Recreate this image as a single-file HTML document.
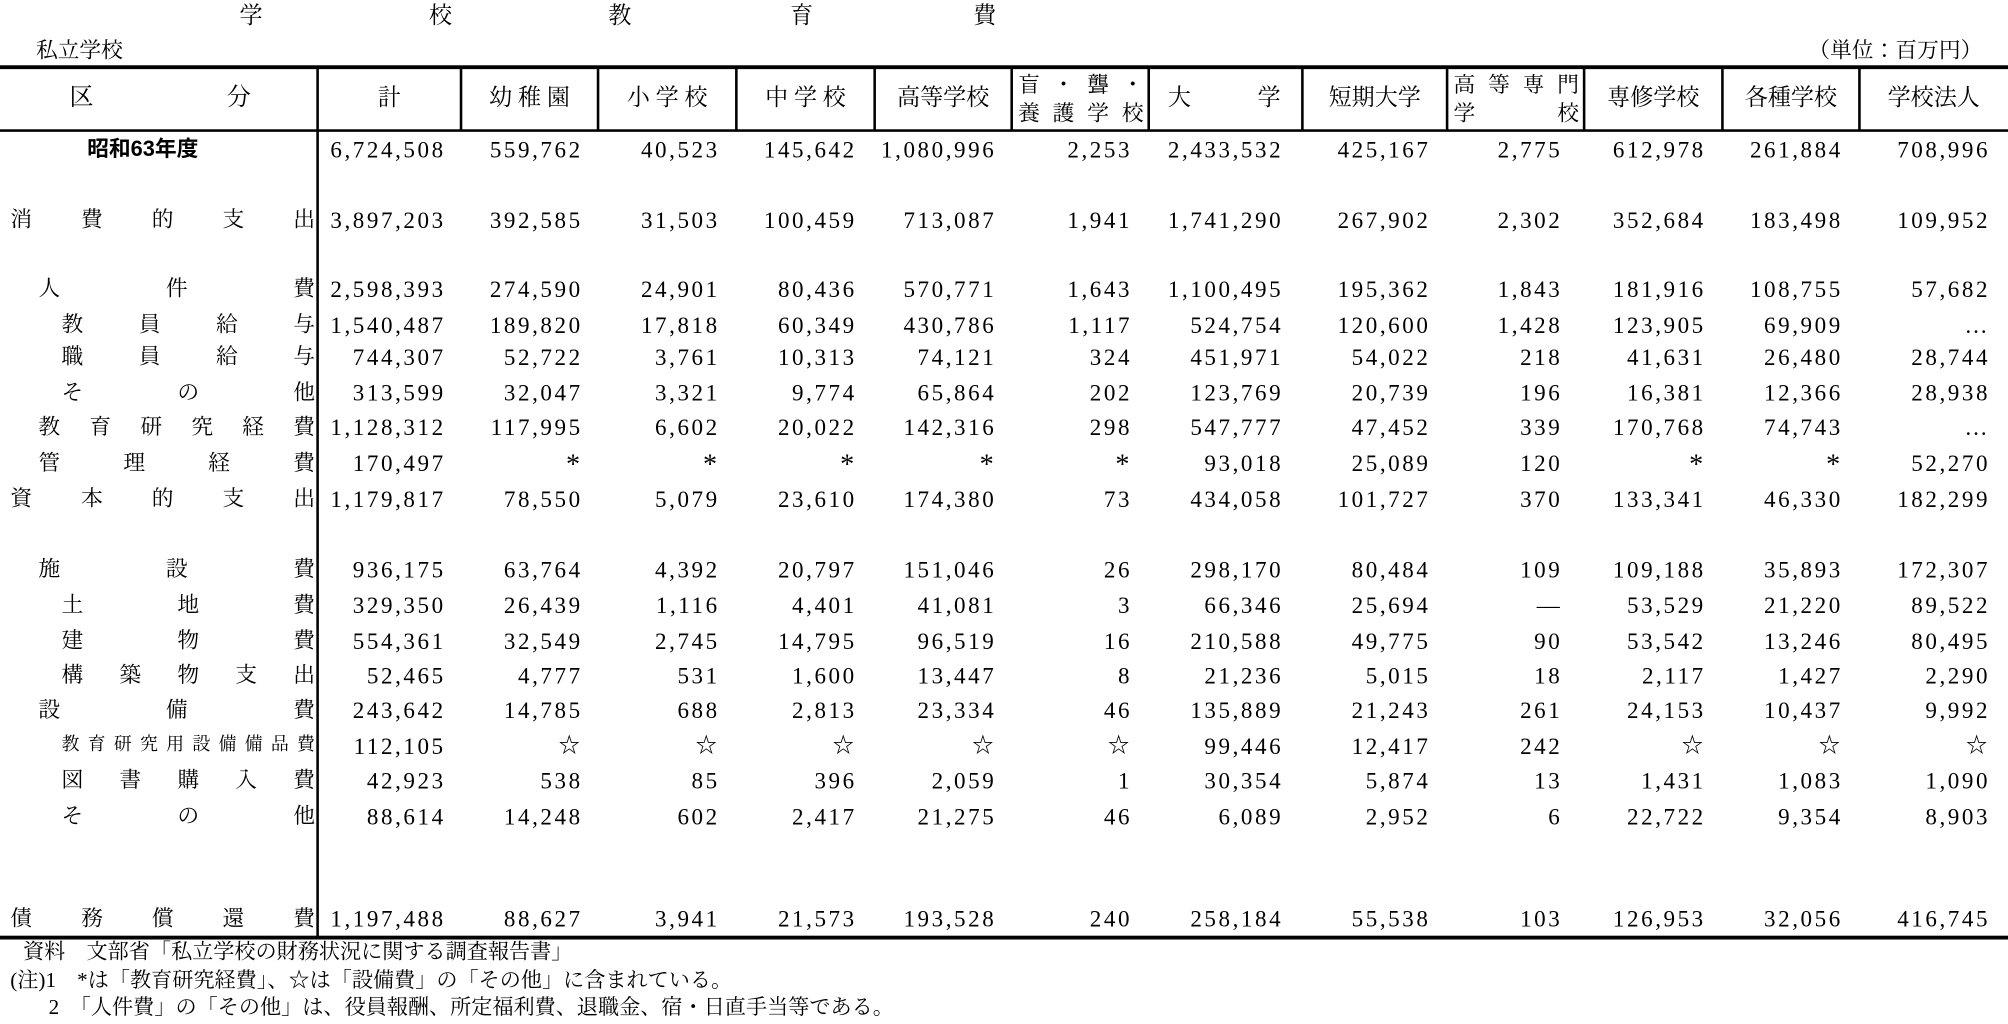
<!DOCTYPE html>
<html><head><meta charset="utf-8">
<style>
html,body{margin:0;padding:0;background:#fff;}
body{width:2008px;height:1024px;overflow:hidden;position:relative;}
#c{position:absolute;left:0;top:0;width:1568px;height:800px;transform:scale(1.28061,1.28);transform-origin:0 0;font-family:"Liberation Serif","Noto Serif CJK JP",serif;color:#000;}
.t{position:absolute;white-space:nowrap;line-height:1;}
.n{position:absolute;white-space:nowrap;line-height:1;font-size:18px;letter-spacing:2px;text-align:right;}
.hl{position:absolute;background:#000;}
.lab{position:absolute;display:flex;justify-content:space-between;font-size:17px;line-height:1;}
</style></head><body><div id="c"></div>
<script>
var c=document.getElementById('c'),h='';
function T(x,y,s,fs,extra){h+='<div class="t" style="left:'+x+'px;top:'+y+'px;font-size:'+fs+'px;'+(extra||'')+'">'+s+'</div>';}
function L(x,y,w,hh){h+='<div class="hl" style="left:'+x+'px;top:'+y+'px;width:'+w+'px;height:'+hh+'px"></div>';}
function J(x1,x2,y,s,fs){h+='<div class="lab" style="left:'+x1+'px;width:'+(x2-x1)+'px;top:'+y+'px;font-size:'+(fs||17)+'px">'+s.split('').map(function(ch){return '<span>'+ch+'</span>'}).join('')+'</div>';}
var tt=['学','校','教','育','費'],tx=[187,335,475,617,760];
for(var i=0;i<5;i++)T(tx[i],3,tt[i],18);
T(28,31,'私立学校',17);
T(1412,31,'（単位：百万円）',17);
L(0,51,1568,3);L(0,101,1568,2);L(0,731,1568,3);
var vx=[248,360,467,575,683,790,897,1017,1130,1237,1345,1452];
for(var i=0;i<vx.length;i++)L(vx[i]-1,53,2,i==0?679:49);
T(54,67,'区',19);T(177,67,'分',19);
function HC(a,b,s){h+='<div class="t" style="left:'+a+'px;width:'+(b-a)+'px;top:67px;font-size:18px;text-align:center">'+s+'</div>';}
HC(248,360,'計');HC(360,467,'幼 稚 園');HC(467,575,'小 学 校');HC(575,683,'中 学 校');HC(683,790,'高等学校');
J(795,893,58,'盲・聾・');J(795,893,80,'養護学校');
T(912,67,'大',18);T(982,67,'学',18);
HC(1017,1130,'短期大学');
J(1135,1233,58,'高等専門');J(1135,1233,80,'学　　　校');
HC(1237,1345,'専修学校');HC(1345,1452,'各種学校');HC(1452,1568,'学校法人');
T(68,108,'<b>昭和63年度</b>',17,'font-family:\'Liberation Sans\',\'Noto Sans CJK JP\',sans-serif');
var rows=[
[108,null,0,'6,724,508 559,762 40,523 145,642 1,080,996 2,253 2,433,532 425,167 2,775 612,978 261,884 708,996'],
[163,'消費的支出',8,'3,897,203 392,585 31,503 100,459 713,087 1,941 1,741,290 267,902 2,302 352,684 183,498 109,952'],
[217,'人件費',30,'2,598,393 274,590 24,901 80,436 570,771 1,643 1,100,495 195,362 1,843 181,916 108,755 57,682'],
[245,'教員給与',48,'1,540,487 189,820 17,818 60,349 430,786 1,117 524,754 120,600 1,428 123,905 69,909 …'],
[270,'職員給与',48,'744,307 52,722 3,761 10,313 74,121 324 451,971 54,022 218 41,631 26,480 28,744'],
[298,'その他',48,'313,599 32,047 3,321 9,774 65,864 202 123,769 20,739 196 16,381 12,366 28,938'],
[325,'教育研究経費',30,'1,128,312 117,995 6,602 20,022 142,316 298 547,777 47,452 339 170,768 74,743 …'],
[353,'管理経費',30,'170,497 * * * * * 93,018 25,089 120 * * 52,270'],
[381,'資本的支出',8,'1,179,817 78,550 5,079 23,610 174,380 73 434,058 101,727 370 133,341 46,330 182,299'],
[436,'施設費',30,'936,175 63,764 4,392 20,797 151,046 26 298,170 80,484 109 109,188 35,893 172,307'],
[464,'土地費',48,'329,350 26,439 1,116 4,401 41,081 3 66,346 25,694 — 53,529 21,220 89,522'],
[492,'建物費',48,'554,361 32,549 2,745 14,795 96,519 16 210,588 49,775 90 53,542 13,246 80,495'],
[519,'構築物支出',48,'52,465 4,777 531 1,600 13,447 8 21,236 5,015 18 2,117 1,427 2,290'],
[546,'設備費',30,'243,642 14,785 688 2,813 23,334 46 135,889 21,243 261 24,153 10,437 9,992'],
[574,'教育研究用設備備品費',48,'112,105 ☆ ☆ ☆ ☆ ☆ 99,446 12,417 242 ☆ ☆ ☆'],
[601,'図書購入費',48,'42,923 538 85 396 2,059 1 30,354 5,874 13 1,431 1,083 1,090'],
[629,'その他',48,'88,614 14,248 602 2,417 21,275 46 6,089 2,952 6 22,722 9,354 8,903'],
[709,'債務償還費',8,'1,197,488 88,627 3,941 21,573 193,528 240 258,184 55,538 103 126,953 32,056 416,745']];
var re=[346,453,560,667,776,882,1000,1115,1218,1330,1437,1552];
rows.forEach(function(r){
 if(r[1]){var fs=r[1].length>8?14:17;J(r[2],246,r[0]+(fs==14?2:0),r[1],fs);}
 r[3].split(' ').forEach(function(v,i){
  var ex='';
  if(v=='*')ex='font-size:22px;margin-top:-1px;';
  if(v=='☆')ex='font-size:17px;';
  h+='<div class="n" style="right:'+(1568-re[i]-2)+'px;top:'+r[0]+'px;'+ex+'">'+v+'</div>';
 });
});
T(18,736,'資料　文部省「私立学校の財務状況に関する調査報告書」',16.5);
T(8,758,'(注)1　*は「教育研究経費」、☆は「設備費」の「その他」に含まれている。',16.5);
T(38,779,'2　「人件費」の「その他」は、役員報酬、所定福利費、退職金、宿・日直手当等である。',16.5);
c.innerHTML=h;
</script></body></html>
